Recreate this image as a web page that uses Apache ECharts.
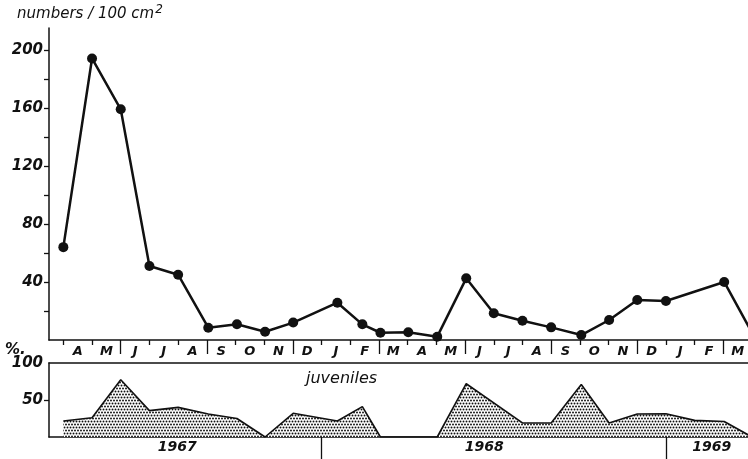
<!DOCTYPE html>
<html>
<head>
<meta charset="utf-8">
<script src="https://cdn.jsdelivr.net/npm/echarts@6/dist/echarts.min.js"></script>
<style>
html,body{margin:0;padding:0;background:#fff;}
#chart{width:748px;height:459px;}
</style>
</head>
<body>
<div id="chart"></div>
<script>
// month positions: 0 = first sampling (April 1967), 1 unit = 1 month
var monthLetters = ['A','M','J','J','A','S','O','N','D','J','F','M','A','M','J','J','A','S','O','N','D','J','F','M'];
var quarterTicks = [2,5,8,11,14,17,20,23];
var monthTicks = [0,1,3,4,6,7,9,10,12,13,15,16,18,19,21,22];
var yearLabels = ['1967','1968','1969'];
var yearLabelPos = [3.97,14.67,22.6];
var yearTicks = [9,21];

// density, numbers / 100 cm2
var sampleTimes = [0,1,2,3,4,5.05,6.05,7.03,8.01,9.55,10.42,11.05,12.02,13.03,14.04,15,16,17,18.05,19.02,20,21,23.03,24];
var numbers = [64,194,159,51,45,8.5,10.8,5.7,12,25.7,10.8,5,5.3,2.3,42.5,18.4,13.3,8.7,3.4,13.8,27.6,26.9,40,5];

// juveniles, %
var juvTimes = [0,1,2,3,4,5.05,6.05,7.03,8.01,9.55,10.42,11.05,12.02,13.03,14.04,16,17,18.05,19.02,20,21,22,23.03,24];
var juveniles = [21.6,26.1,77.4,35.6,40,31,25,0,32,21.6,41,0,0,0,72,19,19,71,19,31,31.5,22.5,21,0];

var topData = sampleTimes.map(function(t,i){ return [t, numbers[i]]; });
var juvData = juvTimes.map(function(t,i){ return [t, juveniles[i]]; });

function dots(){
	var c = document.createElement('canvas');
	c.width = 6; c.height = 6;
	var g = c.getContext('2d');
	g.fillStyle = '#fff';
	g.fillRect(0,0,6,6);
	g.fillStyle = '#111';
	[[1.5,1.5],[4.5,1.5],[0,4.5],[3,4.5],[6,4.5]].forEach(function(p){
		g.beginPath();
		g.arc(p[0],p[1],0.95,0,Math.PI*2);
		g.fill();
	});
	return c;
}

var ink = '#111';
var font = 'DejaVu Sans';
var xMin = -0.5, xMax = 23.86;

var myChart = echarts.init(document.getElementById('chart'));
var option = {
	animation : false,
	backgroundColor : '#fff',
	grid : [
		{ left: 49, right: 0, top: 28, bottom: 119 },
		{ left: 49, right: 0, top: 363, bottom: 22 }
	],
	xAxis : [
		{
			type: 'value', gridIndex: 0, position: 'bottom', min: xMin, max: xMax,
			axisLine: { show: true, onZero: false, lineStyle: { color: ink, width: 1.5 } },
			axisTick: { show: true, customValues: monthTicks, length: 5, lineStyle: { color: ink, width: 1.3 } },
			axisLabel: {
				show: true, customValues: monthLetters.map(function(m,i){ return i + 0.5; }),
				formatter: function(v){ return monthLetters[Math.floor(v)]; },
				margin: 5, color: ink, fontFamily: font, fontStyle: 'italic', fontWeight: 'bold', fontSize: 13, verticalAlign: 'top'
			},
			splitLine: { show: false }
		},
		{
			type: 'value', gridIndex: 0, position: 'bottom', min: xMin, max: xMax,
			axisLine: { show: false, onZero: false },
			axisTick: { show: true, customValues: quarterTicks, length: 14, lineStyle: { color: ink, width: 1.3 } },
			axisLabel: { show: false },
			splitLine: { show: false }
		},
		{
			type: 'value', gridIndex: 1, position: 'bottom', min: xMin, max: xMax,
			axisLine: { show: true, onZero: false, lineStyle: { color: ink, width: 1.5 } },
			axisTick: { show: true, customValues: yearTicks, length: 22, lineStyle: { color: ink, width: 1.3 } },
			axisLabel: {
				show: true, customValues: yearLabelPos,
				formatter: function(v){ return v < yearTicks[0] ? yearLabels[0] : (v < yearTicks[1] ? yearLabels[1] : yearLabels[2]); },
				margin: 3, color: ink, fontFamily: font, fontStyle: 'italic', fontWeight: 'bold', fontSize: 14, verticalAlign: 'top'
			},
			splitLine: { show: false }
		},
		{
			type: 'value', gridIndex: 1, position: 'top', min: xMin, max: xMax,
			axisLine: { show: true, onZero: false, lineStyle: { color: ink, width: 1.5 } },
			axisTick: { show: false },
			axisLabel: { show: false },
			splitLine: { show: false }
		}
	],
	yAxis : [
		{
			type: 'value', gridIndex: 0, min: 0, max: 215,
			axisLine: { show: true, onZero: false, lineStyle: { color: ink, width: 1.5 } },
			axisTick: { show: true, customValues: [20,40,60,80,100,120,140,160,180,200], length: 5, lineStyle: { color: ink, width: 1.3 } },
			axisLabel: {
				show: true, customValues: [40,80,120,160,200],
				margin: 6, color: ink, fontFamily: font, fontStyle: 'italic', fontWeight: 'bold', fontSize: 15
			},
			splitLine: { show: false }
		},
		{
			type: 'value', gridIndex: 1, min: 0, max: 100,
			axisLine: { show: true, onZero: false, lineStyle: { color: ink, width: 1.5 } },
			axisTick: { show: true, customValues: [50], length: 5, lineStyle: { color: ink, width: 1.3 } },
			axisLabel: {
				show: true, customValues: [50,100],
				margin: 6, color: ink, fontFamily: font, fontStyle: 'italic', fontWeight: 'bold', fontSize: 15
			},
			splitLine: { show: false }
		}
	],
	graphic : [
		{
			type: 'text', left: 17, top: 4,
			style: {
				text: 'numbers / 100 cm{s|2}',
				fill: ink, font: 'italic 15px "DejaVu Sans"',
				rich: { s: { fontSize: 12, fontStyle: 'italic', fontFamily: font, fill: ink, padding: [0,0,9,1] } }
			}
		},
		{
			type: 'text', left: 5, top: 343,
			style: { text: '%.', fill: ink, font: 'italic bold 15px "DejaVu Sans"' }
		},
		{
			type: 'text', left: 306, top: 371,
			style: { text: 'juveniles', fill: ink, font: 'italic 16px "DejaVu Sans"' }
		}
	],
	series : [
		{
			type: 'line', xAxisIndex: 0, yAxisIndex: 0,
			data: topData,
			symbol: 'circle', symbolSize: 10,
			itemStyle: { color: ink },
			lineStyle: { color: ink, width: 2.5 },
			clip: true
		},
		{
			type: 'line', xAxisIndex: 2, yAxisIndex: 1,
			data: juvData,
			symbol: 'none',
			lineStyle: { color: ink, width: 1.6 },
			areaStyle: { color: { image: dots(), repeat: 'repeat' }, opacity: 1 },
			clip: true
		}
	]
};
myChart.setOption(option, true);
</script>
</body>
</html>
